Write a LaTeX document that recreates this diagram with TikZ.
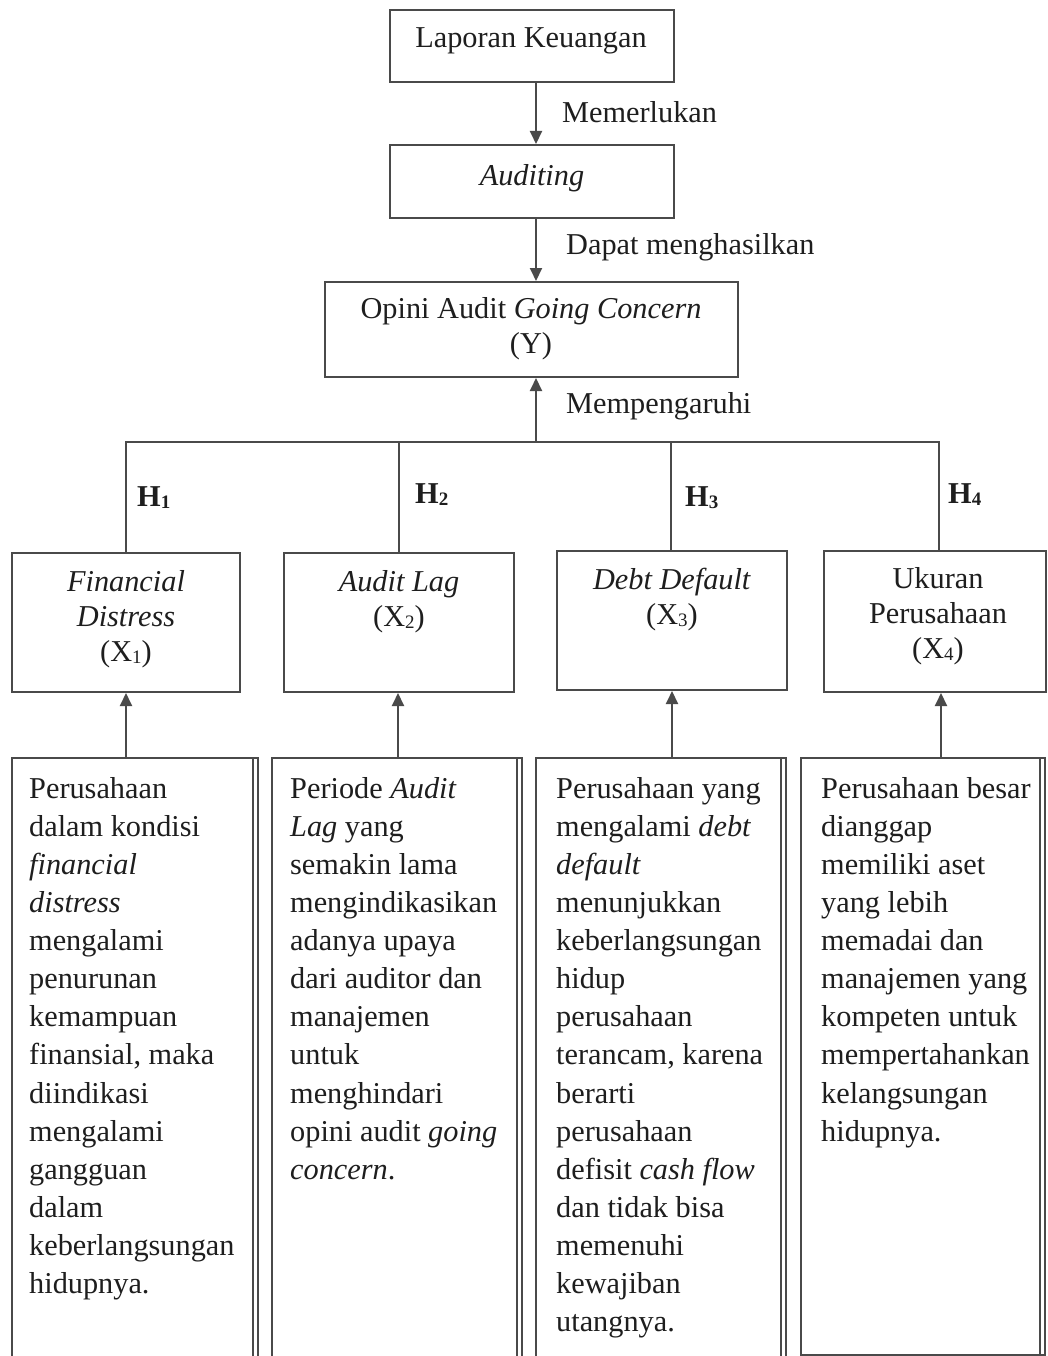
\documentclass[tikz,border=0pt]{standalone}
\usepackage{fontspec}
\setmainfont{Liberation Serif}
\usetikzlibrary{arrows.meta}
\definecolor{ln}{HTML}{4A4A4A}
\definecolor{tx}{HTML}{1E1E1E}
\newcommand{\sbx}[1]{{\fontsize{19}{19}\selectfont\raisebox{-2pt}{#1}}}
\begin{document}
\begin{tikzpicture}[x=1pt,y=-1pt,
  box/.style={draw=ln,line width=2pt,inner sep=0pt,rectangle},
  conn/.style={draw=ln,line width=2pt},
  arr/.style={conn,-{Triangle[length=13pt,width=12pt]}},
  txt/.style={text=tx,font=\fontsize{30.3}{35}\selectfont,inner sep=0pt},
  para/.style={text=tx,font=\fontsize{30.3}{38.1}\selectfont,inner sep=0pt,align=left,anchor=north west},
  lbl/.style={text=tx,font=\fontsize{30.3}{35}\selectfont,inner sep=0pt,anchor=west},
  hlbl/.style={text=tx,font=\fontsize{30.3}{35}\selectfont\bfseries,inner sep=0pt,anchor=west}]
\clip (0,0) rectangle (1048,1356);
\fill[white] (0,0) rectangle (1048,1356);
% top boxes
\node[box,minimum width=284pt,minimum height=72pt] (lk) at (532,46) {};
\node[txt] (lkt) at (531,41) {Laporan Keuangan};
\node[box,minimum width=284pt,minimum height=73pt] (aud) at (532,181.5) {};
\node[txt] (audt) at (532,178) {\textit{Auditing}};
\node[box,minimum width=413pt,minimum height=95pt] (y) at (531.5,329.5) {};
\node[txt,align=center,anchor=north] (yt) at (531,297) {Opini Audit \textit{Going Concern}\\(Y)};
% X boxes
\node[box,minimum width=228pt,minimum height=139pt] (x1) at (126,622.5) {};
\node[box,minimum width=230pt,minimum height=139pt] (x2) at (399,622.5) {};
\node[box,minimum width=230pt,minimum height=139pt] (x3) at (672,620.5) {};
\node[box,minimum width=222pt,minimum height=141pt] (x4) at (935,621.5) {};
\node[txt,align=center,anchor=north] (x1t) at (126,570) {\textit{Financial}\\\textit{Distress}\\(X\sbx{1})};
\node[txt,align=center,anchor=north] (x2t) at (399,570) {\textit{Audit Lag}\\(X\sbx{2})};
\node[txt,align=center,anchor=north] (x3t) at (672,568) {\textit{Debt Default}\\(X\sbx{3})};
\node[txt,align=center,anchor=north] (x4t) at (938,567) {Ukuran\\Perusahaan\\(X\sbx{4})};
% bottom boxes
\node[box,anchor=north west,minimum width=246pt,minimum height=700pt] (b1) at (11,757) {};
\node[box,anchor=north west,minimum width=250pt,minimum height=700pt] (b2) at (271,757) {};
\node[box,anchor=north west,minimum width=250pt,minimum height=700pt] (b3) at (535,757) {};
\node[box,anchor=north west,minimum width=244pt,minimum height=597pt] (b4) at (800,757) {};
\foreach \b in {b1,b2,b3,b4}
  \draw[ln,line width=1.4pt] ([xshift=-6pt,yshift=-1pt]\b.north east) -- ([xshift=-6pt]\b.south east);
\node[para] (b1t) at (29,777) {Perusahaan\\dalam kondisi\\\textit{financial}\\\textit{distress}\\mengalami\\penurunan\\kemampuan\\finansial, maka\\diindikasi\\mengalami\\gangguan\\dalam\\keberlangsungan\\hidupnya.};
\node[para] (b2t) at (290,777) {Periode \textit{Audit}\\\textit{Lag} yang\\semakin lama\\mengindikasikan\\adanya upaya\\dari auditor dan\\manajemen\\untuk\\menghindari\\opini audit \textit{going}\\\textit{concern}.};
\node[para] (b3t) at (556,777) {Perusahaan yang\\mengalami \textit{debt}\\\textit{default}\\menunjukkan\\keberlangsungan\\hidup\\perusahaan\\terancam, karena\\berarti\\perusahaan\\defisit \textit{cash flow}\\dan tidak bisa\\memenuhi\\kewajiban\\utangnya.};
\node[para] (b4t) at (821,777) {Perusahaan besar\\dianggap\\memiliki aset\\yang lebih\\memadai dan\\manajemen yang\\kompeten untuk\\mempertahankan\\kelangsungan\\hidupnya.};
% connector coordinates
\coordinate (ax) at (536,0);
\coordinate (bus) at (0,442);
\coordinate (h1) at (126,0);
\coordinate (h2) at (399,0);
\coordinate (h3) at (671,0);
\coordinate (h4) at (939,0);
\coordinate (a1) at (126,0);
\coordinate (a2) at (398,0);
\coordinate (a3) at (672,0);
\coordinate (a4) at (941,0);
% top arrows
\draw[arr] (lk.south -| ax) -- (aud.north -| ax);
\draw[arr] (aud.south -| ax) -- (y.north -| ax);
\draw[arr] (bus -| ax) -- (y.south -| ax);
% bus
\draw[conn] (x1.north -| h1) -- (bus -| h1) -- (bus -| h4) -- (x4.north -| h4);
\draw[conn] (x2.north -| h2) -- (bus -| h2);
\draw[conn] (x3.north -| h3) -- (bus -| h3);
% bottom arrows
\draw[arr] (b1.north -| a1) -- (x1.south -| a1);
\draw[arr] (b2.north -| a2) -- (x2.south -| a2);
\draw[arr] (b3.north -| a3) -- (x3.south -| a3);
\draw[arr] (b4.north -| a4) -- (x4.south -| a4);
% labels
\node[lbl] (l1) at (562,112) {Memerlukan};
\node[lbl] (l2) at (566,247) {Dapat menghasilkan};
\node[lbl] (l3) at (566,406) {Mempengaruhi};
\node[hlbl] (hl1) at (137,498) {H\sbx{1}};
\node[hlbl] (hl2) at (415,495) {H\sbx{2}};
\node[hlbl] (hl3) at (685,498) {H\sbx{3}};
\node[hlbl] (hl4) at (948,495) {H\sbx{4}};
\end{tikzpicture}
\end{document}
